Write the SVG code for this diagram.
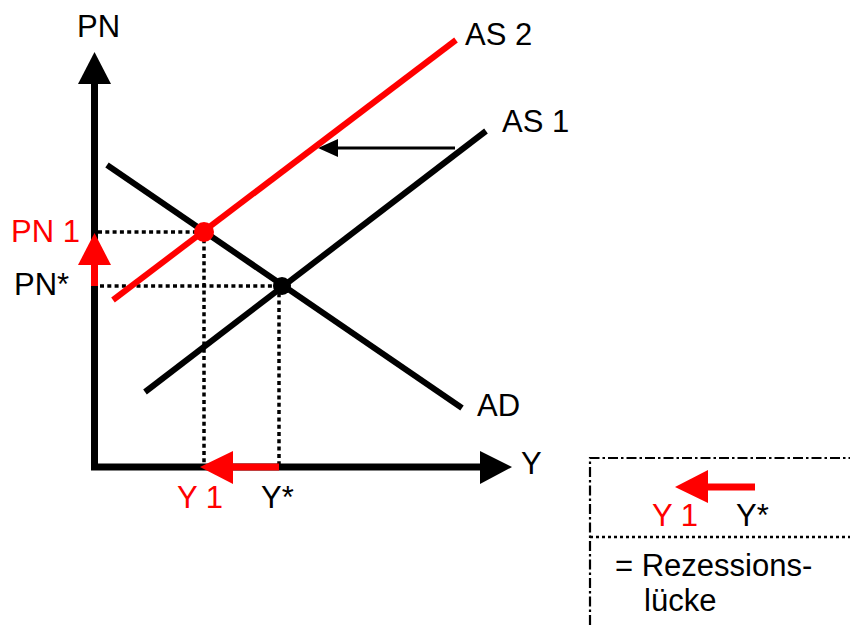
<svg xmlns="http://www.w3.org/2000/svg" width="850" height="625" viewBox="0 0 850 625">
<style>
text{font-family:"Liberation Sans",Arial,sans-serif;font-size:31px;fill:#000}
.r{fill:#f00}
.axis{stroke:#000;stroke-width:7;fill:none}
.curve{stroke-width:6;fill:none}
.dot{stroke:#000;stroke-width:3.5;stroke-dasharray:4 3.3;fill:none}
.frame{stroke:#000;stroke-width:2.2;stroke-dasharray:10 3 2.5 3;fill:none}
.frame2{stroke:#000;stroke-width:2.5;stroke-dasharray:3 3;fill:none}
</style>
<rect width="850" height="625" fill="#fff"/>
<g id="connectors">
<g id="guides">
<line class="dot" x1="98" y1="232" x2="204" y2="232"/>
<line class="dot" x1="100" y1="286" x2="282" y2="286"/>
<line class="dot" x1="204" y1="232" x2="204" y2="464"/>
<line class="dot" x1="279" y1="286" x2="279" y2="464"/>
</g>
<g id="axes">
<polyline class="axis" points="94.5,83 94.5,467 482,467"/>
<polygon points="78,84 111,84 94.5,52" fill="#000"/>
<polygon points="480,451 480,484 512,467" fill="#000"/>
</g>
<g id="shift-arrows">
<line x1="94.5" y1="286" x2="94.5" y2="262" stroke="#f00" stroke-width="7"/>
<polygon points="78,265 111,265 94.5,233" fill="#f00"/>
<line x1="279" y1="467" x2="230" y2="467" stroke="#f00" stroke-width="7"/>
<polygon points="233,451 233,484 200,467" fill="#f00"/>
<line x1="455" y1="148" x2="335" y2="148" stroke="#000" stroke-width="3"/>
<polygon points="338,139 338,157 318,148" fill="#000"/>
</g>
</g>
<g id="AD"><line class="curve" stroke="#000" x1="107" y1="165" x2="462" y2="408"/><text x="477" y="416">AD</text></g>
<g id="AS1"><line class="curve" stroke="#000" x1="145" y1="392" x2="486" y2="131"/><text x="502" y="132">AS 1</text></g>
<g id="AS2"><line class="curve" stroke="#f00" x1="113" y1="300" x2="456" y2="40"/><text x="465" y="45">AS 2</text></g>
<g id="eq1"><circle cx="204" cy="232" r="10" fill="#f00"/></g>
<g id="eq0"><circle cx="282" cy="286" r="9" fill="#000"/></g>
<g id="labels">
<text x="77" y="37">PN</text>
<text class="r" x="11" y="242">PN 1</text>
<text x="14" y="295">PN*</text>
<text x="521" y="474">Y</text>
<text class="r" x="177" y="508">Y 1</text>
<text x="261" y="508">Y*</text>
</g>
<g id="legend">
<polyline class="frame" points="590,625 590,458 850,458"/>
<line class="frame2" x1="590" y1="537" x2="850" y2="537"/>
<line x1="755" y1="487" x2="705" y2="487" stroke="#f00" stroke-width="7"/>
<polygon points="708,470 708,503 675,487" fill="#f00"/>
<text class="r" x="652" y="526">Y 1</text>
<text x="736" y="526">Y*</text>
<text x="615" y="576">= Rezessions-</text>
<text x="644" y="611">lücke</text>
</g>
</svg>
